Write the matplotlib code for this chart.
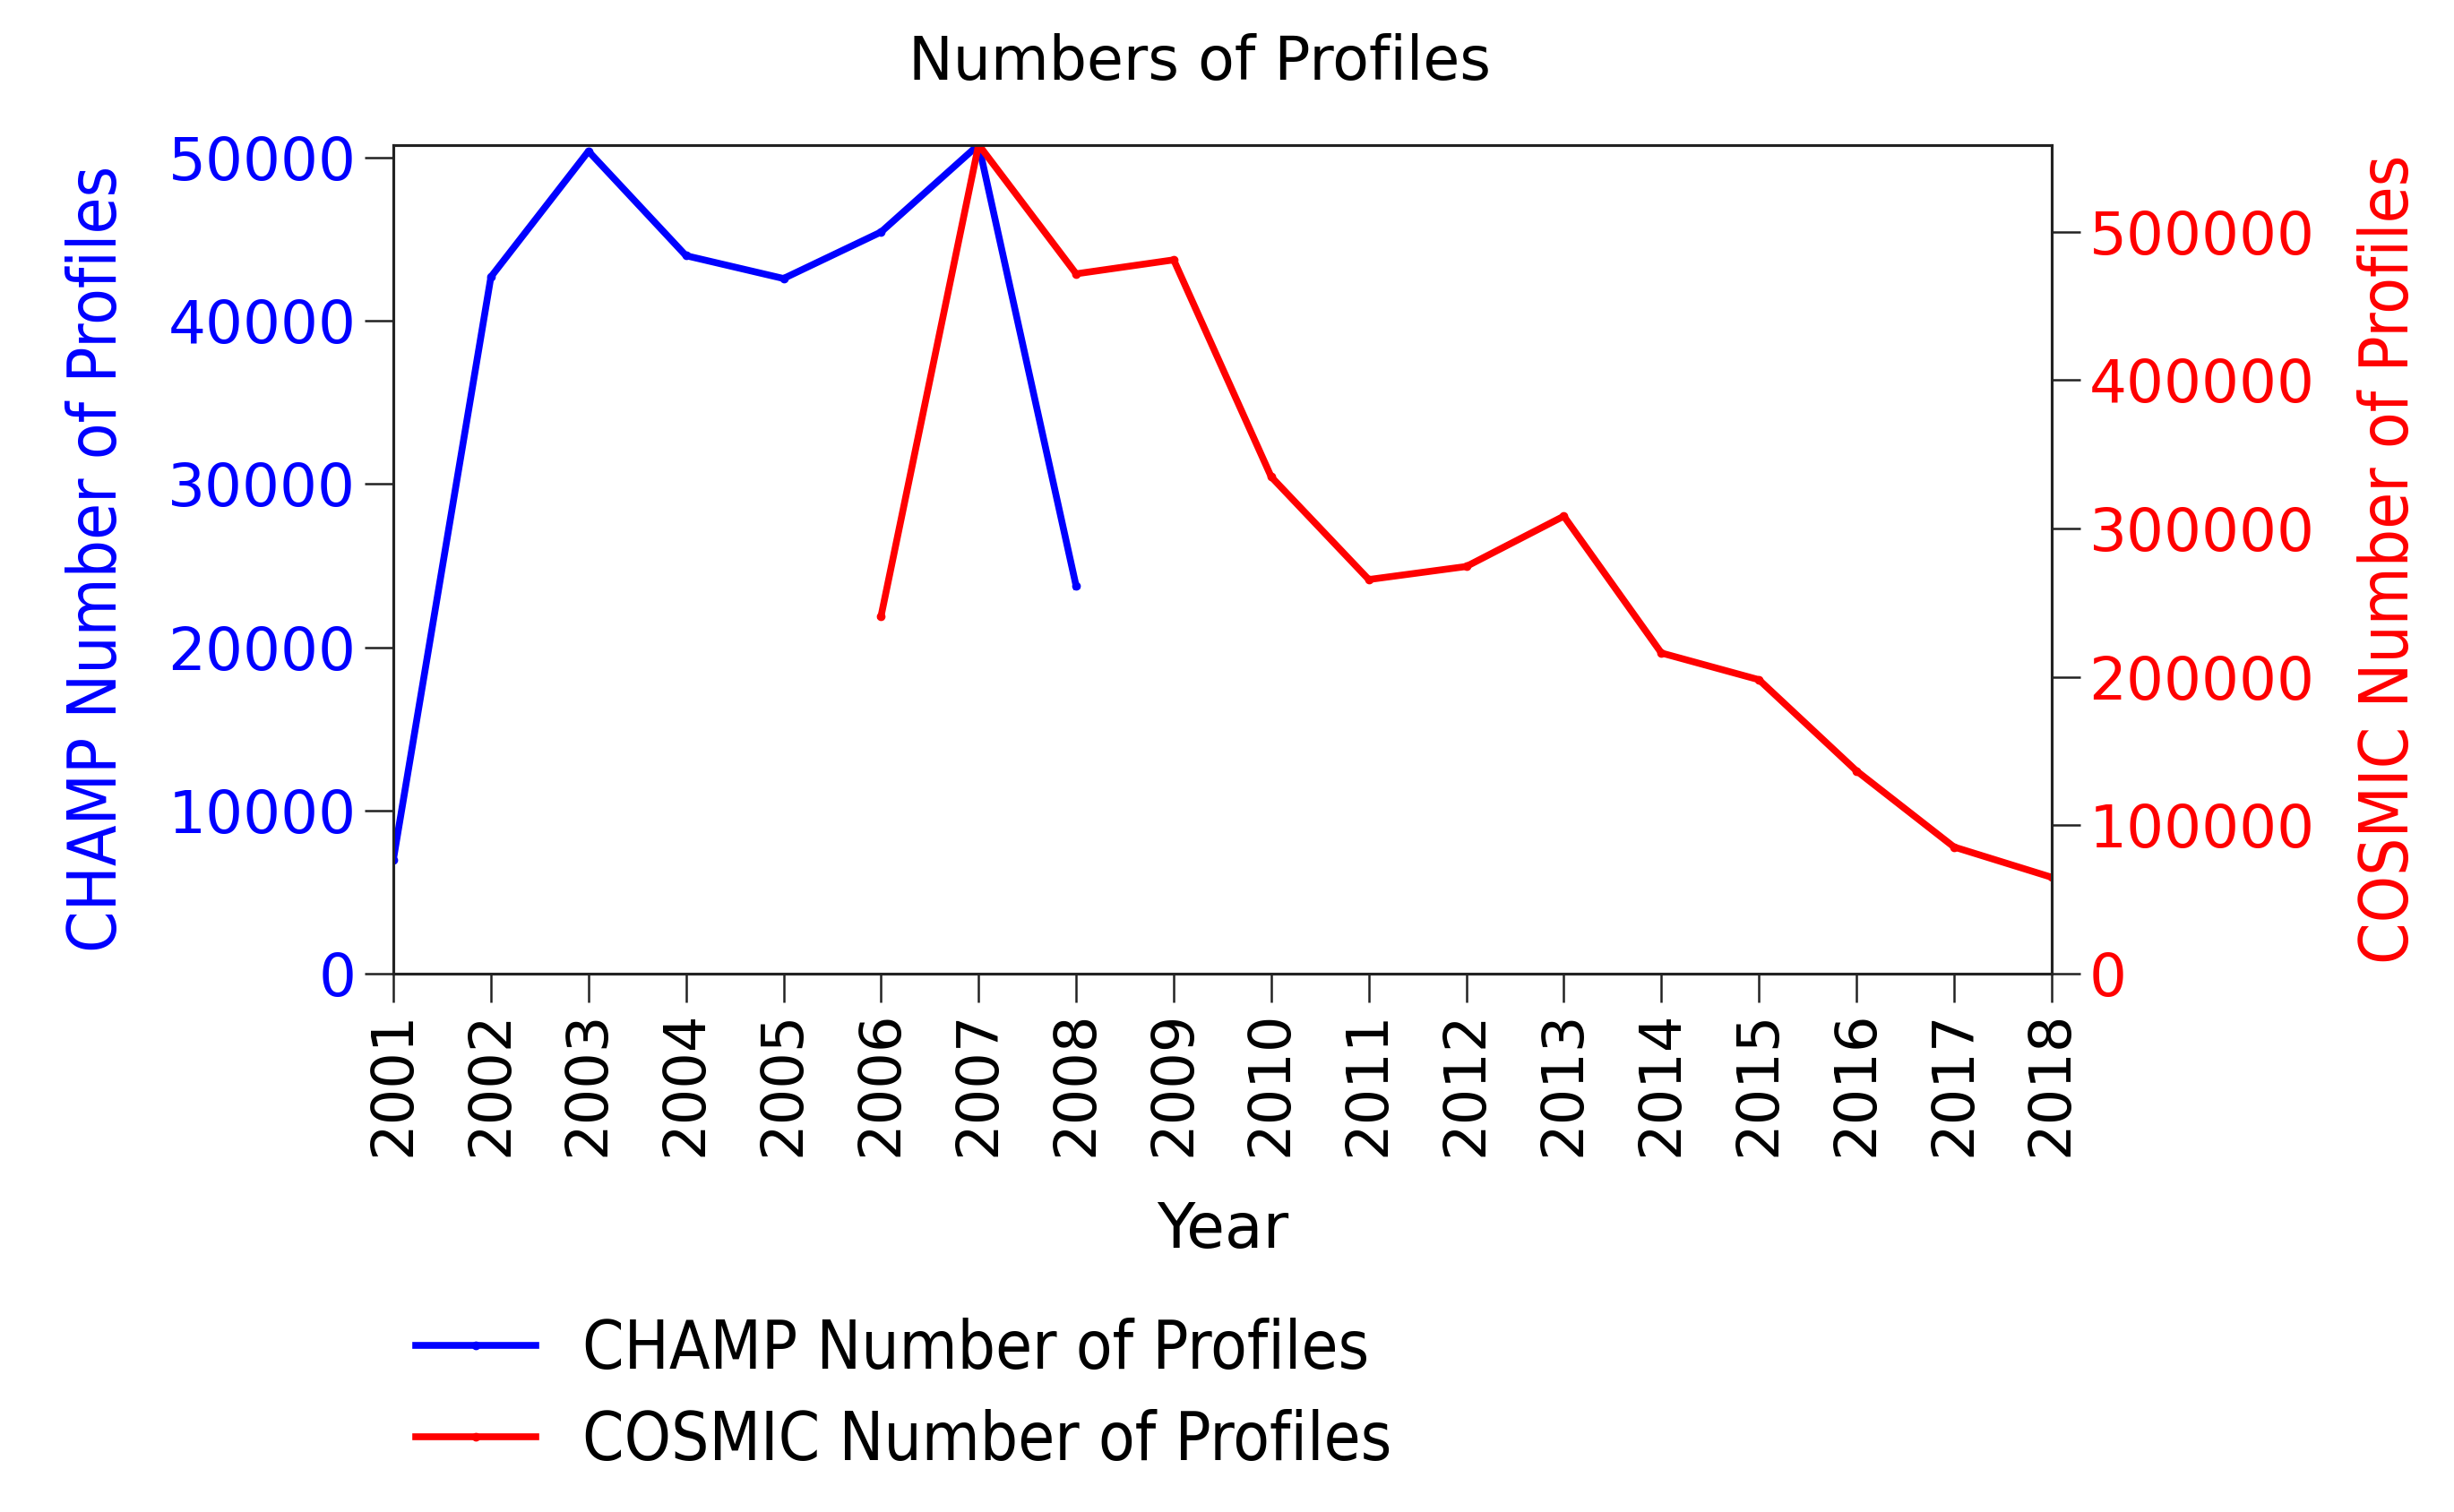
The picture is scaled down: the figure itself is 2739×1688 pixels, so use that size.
import matplotlib
matplotlib.use("Agg")
import matplotlib.pyplot as plt
from matplotlib import font_manager

years = list(range(2001, 2019))
champ_years = [2001, 2002, 2003, 2004, 2005, 2006, 2007, 2008]
champ_counts = [7000, 42700, 50400, 44000, 42600, 45450, 50800, 23750]
cosmic_years = [2006, 2007, 2008, 2009, 2010, 2011, 2012, 2013, 2014, 2015, 2016, 2017, 2018]
cosmic_counts = [241000, 558600, 471600, 481000, 334800, 265600, 274400, 308300,
                 216100, 198100, 136700, 85400, 65000]
left_ticks = [0, 10000, 20000, 30000, 40000, 50000]
right_ticks = [0, 100000, 200000, 300000, 400000, 500000]

has_cond = any(f.name == "DejaVu Sans" and f.stretch == "condensed"
               for f in font_manager.fontManager.ttflist)
cond_kw = dict(family="DejaVu Sans", stretch="condensed", size=53.5) if has_cond \
    else dict(family="DejaVu Sans", size=48)

plt.rcParams["font.family"] = ["DejaVu Sans"]

fig = plt.figure(figsize=(27.39, 16.88), dpi=100)
ax = fig.add_axes([0.1603, 0.356, 0.8360 - 0.1603, 0.9043 - 0.356])
ax2 = ax.twinx()

l1, = ax.plot(champ_years, champ_counts, color="#0000ff", lw=5.5, marker=".",
              ms=12, label="CHAMP Number of Profiles")
l2, = ax2.plot(cosmic_years, cosmic_counts, color="#ff0000", lw=5.5, marker=".",
               ms=12, label="COSMIC Number of Profiles")

ax.set_xlim(2001, 2018)
ax.set_ylim(0, max(champ_counts))
ax2.set_ylim(0, max(cosmic_counts))
ax.set_xticks(years)
ax.set_xticklabels([str(y) for y in years], rotation=90)
ax.set_yticks(left_ticks)
ax2.set_yticks(right_ticks)

for a in (ax, ax2):
    for s in a.spines.values():
        s.set_linewidth(2.2)
        s.set_color("#222222")
    a.tick_params(length=23, width=1.8, pad=7, labelsize=47.5, color="#222222")
ax.tick_params(axis="x", labelsize=46)
ax.tick_params(axis="y", labelcolor="#0000ff")
ax2.tick_params(axis="y", labelcolor="#ff0000")

fig.text(0.489, 1 - 70 / 1688, "Numbers of Profiles", fontsize=48,
         ha="center", va="center")
ax.set_xlabel("Year", fontsize=50, labelpad=35)
ax.set_ylabel("CHAMP Number of Profiles", color="#0000ff", labelpad=30, **cond_kw)
ax2.set_ylabel("COSMIC Number of Profiles", color="#ff0000", labelpad=34, **cond_kw)

leg_prop = font_manager.FontProperties(**cond_kw)
fig.legend(handles=[l1, l2], loc="upper left", bbox_to_anchor=(0.145, 0.168),
           frameon=False, prop=leg_prop, handlelength=1.8, handletextpad=0.7,
           labelspacing=0.38)

fig.savefig("out.png", dpi=100, facecolor="white")
